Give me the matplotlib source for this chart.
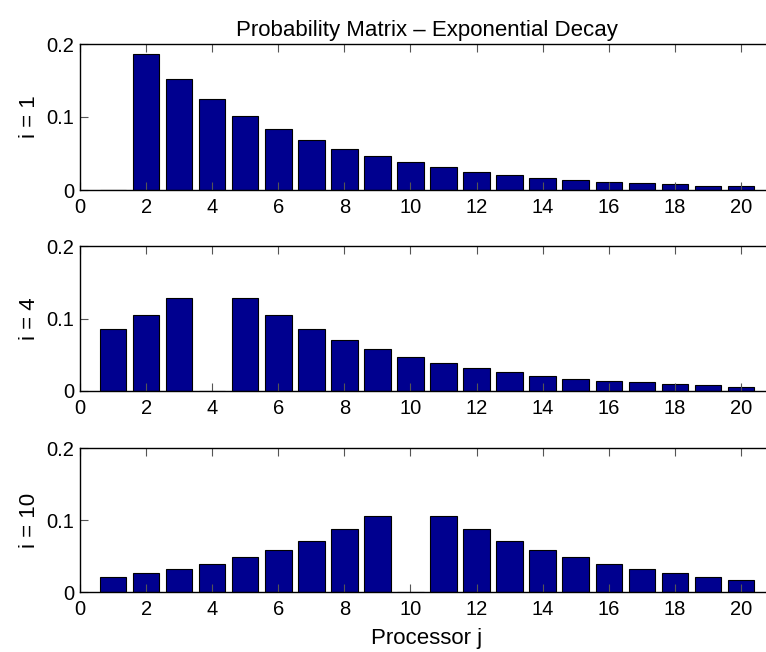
import numpy as np
import matplotlib
matplotlib.use("Agg")
import matplotlib.pyplot as plt

plt.rcParams['font.family'] = ['Liberation Sans', 'DejaVu Sans']

# processor index j
procs = np.arange(1, 21)

# transition probabilities from processor i to processor j
p_i1 = [0.0, 0.186, 0.152, 0.125, 0.102, 0.084, 0.069, 0.056, 0.046, 0.038,
        0.031, 0.025, 0.021, 0.017, 0.014, 0.011, 0.009, 0.008, 0.006, 0.005]
p_i4 = [0.086, 0.105, 0.128, 0.0, 0.128, 0.105, 0.086, 0.071, 0.058, 0.047,
        0.039, 0.032, 0.026, 0.021, 0.017, 0.014, 0.012, 0.010, 0.008, 0.006]
p_i10 = [0.021, 0.026, 0.032, 0.039, 0.048, 0.058, 0.071, 0.087, 0.106, 0.0,
         0.106, 0.087, 0.071, 0.058, 0.048, 0.039, 0.032, 0.026, 0.021, 0.017]

rows = [("i = 1", p_i1), ("i = 4", p_i4), ("i = 10", p_i10)]

fig = plt.figure(figsize=(7.66, 6.52), dpi=100)

# axes boxes in pixels: (top, bottom); the right edge runs past the figure
left_px, right_px = 80, 774
boxes = [(44, 190), (246, 391), (448, 592)]
W, H = 766.0, 652.0

axes = []
for (label, vals), (top, bot) in zip(rows, boxes):
    ax = fig.add_axes([left_px / W, 1 - bot / H, (right_px - left_px) / W, (bot - top) / H])
    ax.bar(procs, vals, width=0.8, color=(0, 0, 0.5625), edgecolor='black', linewidth=0.8)
    ax.set_xlim(0, 21)
    ax.set_ylim(0, 0.2)
    ax.set_xticks(np.arange(0, 21, 2))
    ax.set_yticks([0, 0.1, 0.2])
    ax.set_yticklabels(['0', '0.1', '0.2'])
    ax.tick_params(direction='in', length=6, width=0.8, color='#555555',
                   labelsize=14.5, top=True, pad=4)
    ax.tick_params(axis='x', pad=6)
    ax.set_ylabel(label, fontsize=16, labelpad=5)
    for s in ax.spines.values():
        s.set_linewidth(1.0)
    axes.append(ax)

axes[0].set_title("Probability Matrix \u2013 Exponential Decay", fontsize=16, pad=6)
axes[-1].set_xlabel("Processor j", fontsize=16, labelpad=6)

fig.savefig("out.png", dpi=100)
